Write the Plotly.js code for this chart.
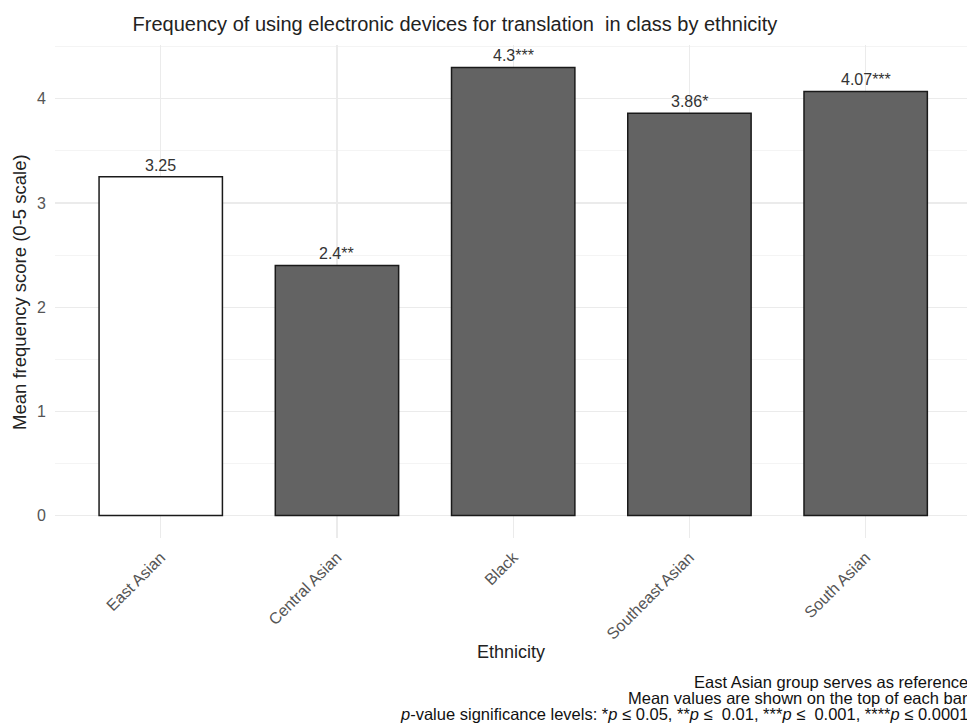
<!DOCTYPE html>
<html>
<head>
<meta charset="utf-8">
<script src="https://cdn.plot.ly/plotly-3.0.1.min.js"></script>
<style>html,body{margin:0;padding:0;overflow:hidden;background:#fff;}#chart{width:967px;height:724px;}</style>
</head>
<body>
<div id="chart"></div>
<script>
var categories = ["East Asian", "Central Asian", "Black", "Southeast Asian", "South Asian"];
var meanValues = [3.25, 2.4, 4.3, 3.86, 4.07];
var significance = ["", "**", "***", "*", "***"];
var barColors = ["#ffffff", "#636363", "#636363", "#636363", "#636363"];

var FONT = "Liberation Sans, Arial, Helvetica, sans-serif";

var trace = {
  type: "bar",
  x: categories,
  y: meanValues,
  width: 0.7,
  marker: {color: barColors, line: {color: "#1a1a1a", width: 1.5}},
  hoverinfo: "x+y"
};

var annotations = categories.map(function (c, i) {
  return {
    x: c, y: meanValues[i], xref: "x", yref: "y",
    text: String(meanValues[i]) + significance[i],
    showarrow: false, yanchor: "bottom", yshift: 1,
    font: {family: FONT, size: 16, color: "#333333"}
  };
});

annotations.push({
  xref: "paper", yref: "paper", x: 0.5, y: -0.2312, yanchor: "middle",
  text: "Ethnicity", showarrow: false,
  font: {family: FONT, size: 18, color: "#222222"}
});
annotations.push({
  xref: "paper", yref: "paper", x: -0.0384, y: 0.499, xanchor: "center", yanchor: "middle",
  text: "Mean frequency score (0-5 scale)", textangle: -90, showarrow: false,
  font: {family: FONT, size: 18.5, color: "#222222"}
});
var captionLines = [
  "East Asian group serves as reference",
  "Mean values are shown on the top of each bar",
  "<i>p</i>-value significance levels: *<i>p</i> \u2264 0.05, **<i>p</i> \u2264 \u00a00.01, ***<i>p</i> \u2264 \u00a00.001, ****<i>p</i> \u2264 0.0001"
];
var captionY = [-0.292, -0.3245, -0.357];
captionLines.forEach(function (t, i) {
  annotations.push({
    xref: "paper", yref: "paper", x: 1, xshift: 3, y: captionY[i],
    xanchor: "right", yanchor: "middle", text: t, showarrow: false,
    font: {family: FONT, size: 16.5, color: "#111111"}
  });
});

var layout = {
  width: 967, height: 724,
  margin: {l: 55, r: 0, t: 45, b: 186},
  paper_bgcolor: "#ffffff", plot_bgcolor: "#ffffff",
  showlegend: false,
  bargap: 0.3,
  title: {
    text: "Frequency of using electronic devices for translation \u00a0in class by ethnicity",
    xref: "paper", x: 0.4386, xanchor: "center",
    yref: "container", y: 0.967, yanchor: "middle",
    font: {family: FONT, size: 20, color: "#222222"}
  },
  xaxis: {
    type: "category",
    range: [-0.6, 4.575],
    tickangle: -45,
    showgrid: true, gridcolor: "#ebebeb", gridwidth: 1.2,
    zeroline: false, showline: false,
    ticks: "", ticklabelstandoff: 6,
    tickfont: {family: FONT, size: 16, color: "#555555"}
  },
  yaxis: {
    range: [-0.215, 4.515],
    dtick: 1, tick0: 0,
    showgrid: true, gridcolor: "#ebebeb", gridwidth: 1.2,
    minor: {dtick: 0.5, tick0: 0, showgrid: true, gridcolor: "#f4f4f4", gridwidth: 1},
    zeroline: false, showline: false,
    ticks: "", ticklabelstandoff: 8,
    tickfont: {family: FONT, size: 16, color: "#555555"}
  },
  annotations: annotations
};

Plotly.newPlot("chart", [trace], layout, {displayModeBar: false, staticPlot: true});
</script>
</body>
</html>
